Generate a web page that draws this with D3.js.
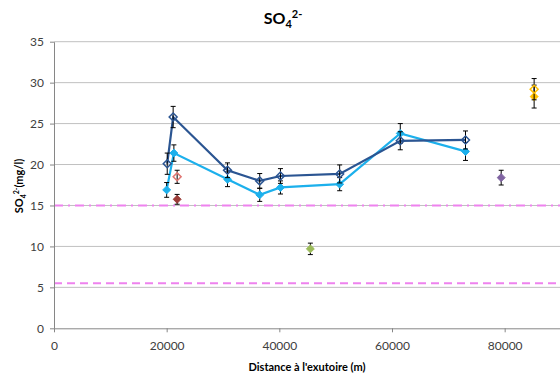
<!DOCTYPE html>
<html><head><meta charset="utf-8">
<script src="https://cdn.jsdelivr.net/npm/d3@7/dist/d3.min.js"></script>
<style>body{margin:0;background:#fff}svg{display:block}</style>
</head><body><svg id="c" width="560" height="379"></svg>
<script>
// Series: dark blue (open diamonds) and light blue (filled diamonds)
const darkX = [20100, 21150, 30800, 36520, 40200, 50710, 61470, 73050];
const darkY = [20.1, 25.8, 19.3, 18.0, 18.6, 18.85, 22.9, 23.0];
const darkErr = [1.3, 1.3, 0.9, 0.9, 0.9, 1.1, 1.1, 1.1];
const lightX = [20000, 21280, 30800, 36520, 40200, 50710, 61470, 73050];
const lightY = [16.9, 21.4, 18.2, 16.3, 17.2, 17.6, 23.8, 21.6];
const lightErr = [0.9, 1.0, 0.9, 0.8, 0.8, 0.8, 1.2, 1.1];
// Single points: [x, y, err]
const redOpen = [21860, 18.5, 0.8];
const brownFilled = [21860, 15.75, 0.6];
const greenFilled = [45510, 9.7, 0.7];
const purpleFilled = [79380, 18.4, 0.9];
const yellowOpen = [85230, 29.2, 1.3];
const yellowFilled = [85230, 28.3, 1.4];
// Reference lines
const refDashDot = 15;
const refDash = 5.5;
const xTicks = [0, 20000, 40000, 60000, 80000];
const yTicks = [0, 5, 10, 15, 20, 25, 30, 35];

const svg = d3.select("#c");
const L = 54, R = 561, T = 41.7, B = 328.3;
const x = d3.scaleLinear().domain([0, 90000]).range([L, R]);
const y = d3.scaleLinear().domain([0, 35]).range([B, T]);
const font = "Lato, 'Liberation Sans', sans-serif";

// gridlines
svg.append("g").selectAll("line").data(yTicks.filter(d => d > 0)).join("line")
  .attr("x1", L).attr("x2", R).attr("y1", d => y(d)).attr("y2", d => y(d))
  .attr("stroke", "#c0c0c0").attr("stroke-width", 1);

// reference lines
svg.append("line").attr("x1", L).attr("x2", R).attr("y1", y(refDashDot)).attr("y2", y(refDashDot))
  .attr("stroke", "#ee82ee").attr("stroke-width", 2).attr("stroke-dasharray", "9,5,2,5");
svg.append("line").attr("x1", L).attr("x2", R).attr("y1", y(refDash)).attr("y2", y(refDash))
  .attr("stroke", "#ee82ee").attr("stroke-width", 2).attr("stroke-dasharray", "8,5");

// axes
const xAxis = svg.append("g").attr("transform", `translate(0,${B})`)
  .call(d3.axisBottom(x).tickValues(xTicks).tickSize(4).tickSizeOuter(0).tickFormat(d3.format("d")));
const yAxis = svg.append("g").attr("transform", `translate(${L},0)`)
  .call(d3.axisLeft(y).tickValues(yTicks).tickSize(4).tickSizeOuter(0));
[xAxis, yAxis].forEach(a => {
  a.select(".domain").attr("stroke", "#868686");
  a.selectAll(".tick line").attr("stroke", "#868686");
  a.selectAll("text").attr("font-family", font).attr("font-size", 12).attr("fill", "#404040");
});
xAxis.selectAll("text").attr("dy", "1.2em");
yAxis.selectAll("text").attr("x", -10);

const diamond = d3.symbol().type(d3.symbolDiamond2).size(40);

function errBars(g, xs, ys, es) {
  xs.forEach((xv, i) => {
    const cx = x(xv), y1 = y(ys[i] + es[i]), y2 = y(ys[i] - es[i]);
    g.append("line").attr("x1", cx).attr("x2", cx).attr("y1", y1).attr("y2", y2).attr("stroke", "#000").attr("stroke-width", 1);
    [y1, y2].forEach(yy => g.append("line").attr("x1", cx - 2.5).attr("x2", cx + 2.5).attr("y1", yy).attr("y2", yy).attr("stroke", "#000").attr("stroke-width", 1));
  });
}

function series(xs, ys, es, color, open, line) {
  const g = svg.append("g");
  if (line) {
    g.append("path").datum(xs.map((d, i) => [d, ys[i]]))
      .attr("d", d3.line().x(d => x(d[0])).y(d => y(d[1])))
      .attr("fill", "none").attr("stroke", color).attr("stroke-width", 2.2);
  }
  errBars(g, xs, ys, es);
  g.selectAll("path.m").data(xs.map((d, i) => [d, ys[i]])).join("path").attr("class", "m")
    .attr("d", diamond).attr("transform", d => `translate(${x(d[0])},${y(d[1])})`)
    .attr("fill", open ? "none" : color).attr("stroke", color).attr("stroke-width", open ? 1.5 : 1);
}

series(lightX, lightY, lightErr, "#1cb0ec", false, true);
series(darkX, darkY, darkErr, "#2b5592", true, true);
series([redOpen[0]], [redOpen[1]], [redOpen[2]], "#e07572", true, false);
series([brownFilled[0]], [brownFilled[1]], [brownFilled[2]], "#9c3c38", false, false);
series([greenFilled[0]], [greenFilled[1]], [greenFilled[2]], "#9bbb59", false, false);
series([purpleFilled[0]], [purpleFilled[1]], [purpleFilled[2]], "#8064a2", false, false);
series([yellowFilled[0]], [yellowFilled[1]], [yellowFilled[2]], "#ffc000", false, false);
series([yellowOpen[0]], [yellowOpen[1]], [yellowOpen[2]], "#ffc000", true, false);

// title
const t = svg.append("text").attr("x", 283).attr("y", 24).attr("text-anchor", "middle")
  .attr("font-family", font).attr("font-weight", "bold").attr("font-size", 16).attr("fill", "#000");
t.append("tspan").text("SO");
t.append("tspan").text("4").attr("font-size", 11).attr("dy", 4);
t.append("tspan").text("2-").attr("font-size", 11).attr("dy", -10);

// x title
svg.append("text").attr("x", 307).attr("y", 371).attr("text-anchor", "middle")
  .attr("font-family", font).attr("font-weight", "bold").attr("font-size", 11).attr("fill", "#000")
  .text("Distance à l'exutoire (m)");

// y title
const yt = svg.append("text").attr("transform", "translate(23,186) rotate(-90)").attr("text-anchor", "middle")
  .attr("font-family", font).attr("font-weight", "bold").attr("font-size", 11).attr("fill", "#000");
yt.append("tspan").text("SO");
yt.append("tspan").text("4").attr("font-size", 7).attr("dy", 3);
yt.append("tspan").text("2-").attr("font-size", 7).attr("dy", -7);
yt.append("tspan").text("(mg/l)").attr("dy", 4);
</script></body></html>
